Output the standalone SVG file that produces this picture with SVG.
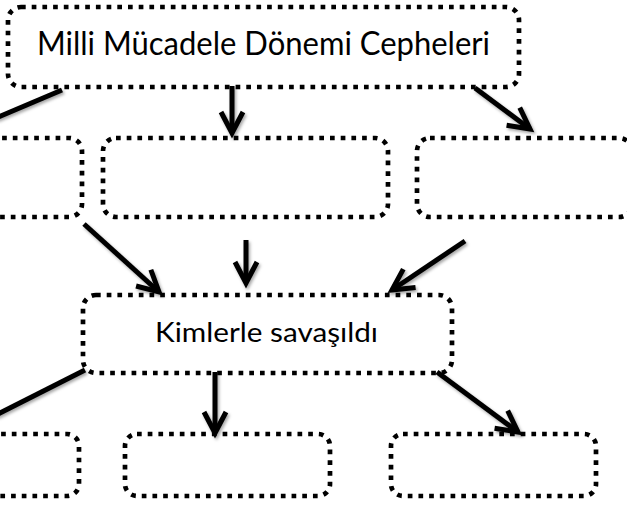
<svg xmlns="http://www.w3.org/2000/svg" width="627" height="508" viewBox="0 0 627 508">
  <style>
    .box { fill: none; stroke: #000; stroke-width: 4.7; stroke-dasharray: 4.7 6; }
    .lbl { font-family: Lato, "Liberation Sans", sans-serif; font-weight: 400; fill: #000; }
    .arr { fill: none; stroke: #000; stroke-width: 5; }
  </style>
  <defs>
    <marker id="head" markerUnits="userSpaceOnUse" orient="auto" markerWidth="40" markerHeight="40" refX="0" refY="0" viewBox="-30 -20 40 40" overflow="visible">
      <path d="M-21,-11 L0,0 L-21,11" fill="none" stroke="#000" stroke-width="5" stroke-linejoin="miter"/>
    </marker>
    <filter id="sh" x="-20%" y="-20%" width="140%" height="140%">
      <feDropShadow dx="1.5" dy="2" stdDeviation="1.5" flood-color="#000" flood-opacity="0.35"/>
    </filter>
  </defs>
  <rect width="627" height="508" fill="#fff"/>

  <g id="connectors" filter="url(#sh)">
    <path class="arr" d="M62,90 L-4,118"/>
    <path class="arr" d="M232,86 L232,133" marker-end="url(#head)"/>
    <path class="arr" d="M475,88 L530,129" marker-end="url(#head)"/>
    <path class="arr" d="M84,224 L159,292" marker-end="url(#head)"/>
    <path class="arr" d="M246,240 L246,283" marker-end="url(#head)"/>
    <path class="arr" d="M465,241 L392,290" marker-end="url(#head)"/>
    <path class="arr" d="M85,370 L-4,415"/>
    <path class="arr" d="M215,372 L215,433" marker-end="url(#head)"/>
    <path class="arr" d="M437,372 L518,432" marker-end="url(#head)"/>
  </g>

  <g id="node-top">
    <rect class="box" x="8" y="7" width="511" height="80" rx="13"/>
    <text class="lbl" x="37" y="55" font-size="32" textLength="453" lengthAdjust="spacingAndGlyphs">Milli Mücadele Dönemi Cepheleri</text>
  </g>
  <g id="node-r2-left"><rect class="box" x="-150" y="138" width="232" height="79" rx="13"/></g>
  <g id="node-r2-mid"><rect class="box" x="103" y="138" width="285" height="79" rx="13"/></g>
  <g id="node-r2-right"><rect class="box" x="417" y="138" width="215" height="79" rx="13"/></g>
  <g id="node-kim">
    <rect class="box" x="83" y="295" width="369" height="78" rx="13"/>
    <text class="lbl" x="155" y="342" font-size="26" textLength="223" lengthAdjust="spacingAndGlyphs">Kimlerle savaşıldı</text>
  </g>
  <g id="node-r3-left"><rect class="box" x="-150" y="434" width="229" height="62" rx="12"/></g>
  <g id="node-r3-mid"><rect class="box" x="125" y="434" width="205" height="62" rx="12"/></g>
  <g id="node-r3-right"><rect class="box" x="391" y="434" width="205" height="62" rx="12"/></g>
</svg>
